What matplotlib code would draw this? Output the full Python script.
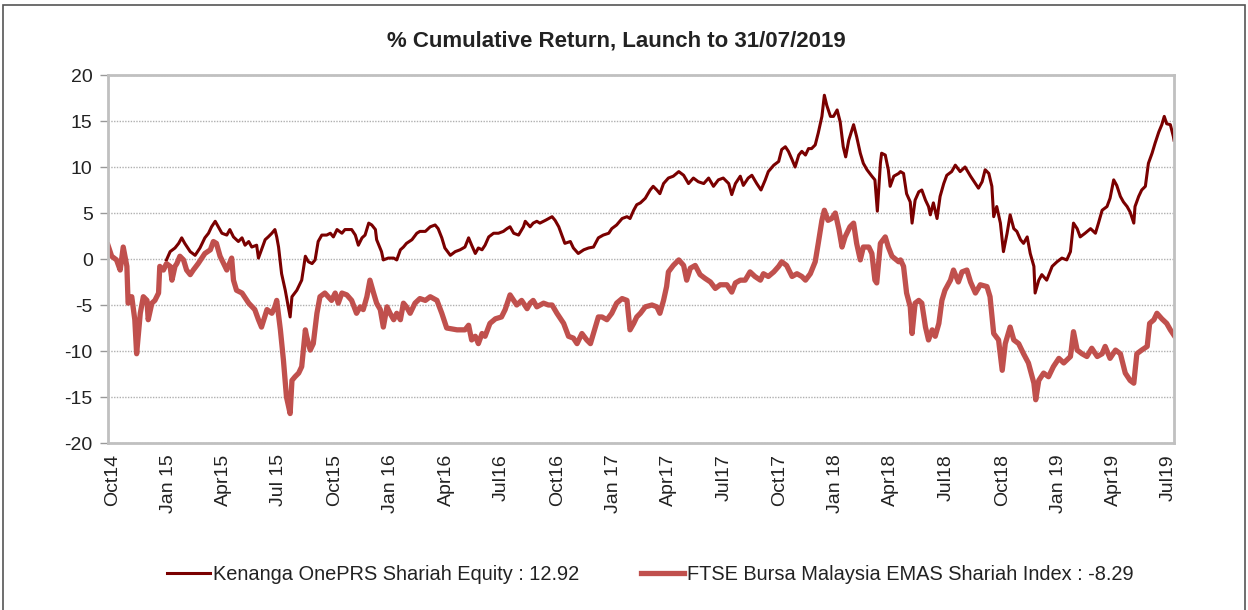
import numpy as np
import pandas as pd
import matplotlib
matplotlib.use("Agg")
from matplotlib import pyplot as plt
from matplotlib.patches import Rectangle

plt.rcParams['font.family'] = ['Liberation Sans', 'DejaVu Sans']

launch = pd.Timestamp('2014-09-24')
end_day = 1750

# Kenanga OnePRS Shariah Equity (days since launch, % cumulative return)
fund_days = [96, 102, 110, 116, 121, 126, 135, 143, 151, 159, 165, 170, 176, 181, 187, 195, 200, 206, 214, 220,
             225, 231, 236, 244, 247, 252, 258, 263, 269, 274, 277, 280, 285, 291, 296, 299, 302, 310, 318, 324,
             329, 335, 340, 345, 351, 359, 365, 370, 376, 384, 389, 400, 406, 411, 417, 422, 428, 433, 439,
             441, 449, 452, 460, 469, 474, 480, 485, 490, 499, 507, 512, 521, 529, 537, 542, 548, 553, 562, 570,
             578, 586, 592, 597, 603, 608, 614, 619, 625, 633, 641, 649, 655, 660, 666, 674, 682, 685, 693, 698,
             704, 709, 718, 729, 734, 740, 745, 750, 759, 764, 772, 781, 789, 797, 805, 813, 822, 827, 835, 844,
             852, 857, 863, 868,
             874, 882, 890, 895, 901, 906, 912, 920, 928, 937, 945, 953, 961, 969, 978, 986, 994, 1002, 1010, 1019,
             1024, 1030, 1038, 1043, 1051, 1057, 1065, 1072, 1079, 1084, 1093, 1101, 1106, 1112, 1117, 1123, 1128,
             1134, 1139, 1145, 1150, 1155, 1161, 1166, 1172, 1176, 1180, 1186, 1191, 1197, 1202, 1207, 1211, 1216,
             1224, 1229, 1235, 1240, 1246, 1254, 1259, 1263, 1268, 1270, 1276, 1281, 1284, 1290, 1298,
             1301, 1306, 1311, 1317, 1320, 1325, 1331, 1336, 1342, 1347, 1350, 1355, 1361, 1366, 1372, 1377, 1385,
             1391, 1399, 1407, 1416, 1424, 1429, 1435, 1440, 1446, 1451, 1454, 1459, 1465, 1470, 1476, 1481, 1487,
             1492, 1498, 1503, 1509, 1514, 1520, 1522, 1528, 1533, 1541, 1550, 1558, 1566, 1574, 1580, 1585, 1591,
             1596, 1604, 1613, 1621, 1626, 1632, 1640, 1645, 1651, 1656, 1662, 1667, 1673, 1678, 1684, 1686, 1692,
             1697, 1703, 1708, 1714, 1719, 1725, 1730, 1734, 1738, 1744, 1749, 1750]
fund_ret = [-0.1, 0.8, 1.2, 1.7, 2.3, 1.7, 0.8, 0.4, 1.2, 2.3, 2.8, 3.5, 4.1, 3.5, 2.8, 2.6, 3.2, 2.4, 1.9, 2.3,
            1.5, 1.9, 1.3, 1.5, 0.1, 1.0, 2.1, 2.4, 2.8, 3.2, 2.4, 1.3, -1.6, -3.4, -5.2, -6.3, -4.1, -3.4, -2.3, 0.3,
            -0.3, -0.5, -0.1, 1.9, 2.6, 2.6, 2.8, 2.4, 3.2, 2.8, 3.2, 3.2, 2.6, 1.5, 2.3, 2.6, 3.9, 3.7, 3.2,
            2.1, 0.8, -0.1, 0.1, 0.1, -0.1, 1.0, 1.3, 1.7, 2.1, 2.8, 3.0, 3.0, 3.5, 3.7, 3.3, 2.3, 1.2, 0.4, 0.8,
            1.0, 1.3, 2.3, 1.5, 0.6, 1.2, 1.0, 1.5, 2.4, 2.8, 2.8, 3.0, 3.3, 3.5, 2.8, 2.6, 3.5, 4.1, 3.5, 3.9,
            4.1, 3.9, 4.2, 4.6, 4.2, 3.5, 2.6, 1.7, 1.9, 1.2, 0.6, 1.0, 1.2, 1.3, 2.3, 2.6, 2.8, 3.3, 3.7, 4.4,
            4.6, 4.4, 5.3, 5.9,
            6.1, 6.6, 7.5, 7.9, 7.5, 7.1, 8.2, 8.8, 9.0, 9.5, 9.1, 8.2, 8.8, 8.4, 8.2, 8.8, 7.9, 8.6, 8.8, 8.2,
            7.0, 8.2, 9.0, 8.0, 8.8, 9.1, 8.2, 7.5, 8.6, 9.5, 10.2, 10.6, 11.9, 12.2, 11.7, 10.8, 10.0,
            11.3, 11.7, 11.3, 12.0, 12.0, 12.4, 13.7, 15.5, 17.8, 16.7, 15.5, 15.5, 16.2, 14.9, 12.2, 11.1, 12.9,
            14.6, 13.3, 11.5, 10.4, 9.7, 9.0, 8.6, 5.2, 10.4, 11.5, 11.3, 9.7, 7.9, 9.0, 9.3,
            9.5, 9.3, 7.1, 6.2, 3.9, 6.4, 7.3, 7.5, 6.4, 5.7, 4.8, 6.1, 4.4, 6.8, 8.2, 9.1, 9.5,
            10.2, 9.5, 10.0, 9.0, 8.2, 7.7, 8.4, 9.7, 9.3, 7.9, 4.6, 5.7, 3.9, 0.8, 2.8, 4.8, 3.3,
            3.0, 2.1, 1.7, 2.4, 0.6, -0.8, -3.7, -2.3, -1.7, -2.3, -0.8, -0.3, 0.1, -0.1, 0.8, 3.9, 3.3,
            2.4, 2.8, 3.3, 2.8, 3.9, 5.3, 5.7, 6.6, 8.6, 8.0, 6.8, 6.2, 5.7, 5.1, 3.9, 5.7, 6.8,
            7.5, 7.9, 10.4, 11.5, 12.6, 13.8, 14.6, 15.5, 14.7, 14.6, 13.3, 12.92]

# FTSE Bursa Malaysia EMAS Shariah Index
index_days = [0, 6, 14, 20, 25, 31, 33, 39, 44, 47, 53, 58, 64, 66, 72, 77, 83, 85, 91, 96, 102, 105, 110, 113,
              118, 124, 129, 135, 140, 148, 159, 168, 173, 178, 184, 195, 203, 206, 211, 220, 231, 241, 247, 252,
              261, 269, 274, 277, 283, 288, 293, 299, 302, 307, 313, 318, 324, 326, 332, 337, 343, 348, 356, 367,
              373, 378, 384, 392, 400, 408, 414, 419, 425, 430, 436,
              441, 447, 452, 458, 463, 469, 474, 480, 485, 490, 496, 504, 512, 521, 529, 540, 548, 556, 573, 586,
              592, 597, 603, 608, 614, 619, 627, 636, 646, 652, 657, 660, 666, 671, 679, 688, 693, 698, 704, 715,
              723, 729, 737, 748, 756, 764, 770, 778, 786, 792, 797, 805, 811, 819, 827, 835, 844, 852, 857, 863, 868,
              874, 882, 893, 901, 906, 912, 917, 920, 928, 937, 945, 950, 956, 964, 972, 980, 989, 997, 1005, 1016,
              1024, 1030, 1038, 1046, 1054, 1062, 1071, 1076, 1084, 1093, 1101, 1106, 1114, 1123, 1131, 1139, 1145,
              1153, 1161, 1166, 1172, 1176, 1182, 1188, 1194, 1200, 1205, 1210, 1218, 1224, 1229, 1235, 1240, 1249,
              1254, 1259, 1262, 1268, 1276, 1281, 1287, 1298,
              1301, 1306, 1311, 1317, 1320, 1325, 1331, 1336, 1342, 1347, 1353, 1358, 1364, 1369, 1374, 1383, 1388,
              1396, 1402, 1410, 1416, 1424, 1432, 1443, 1448, 1454, 1462, 1468, 1473, 1481, 1487, 1495, 1503, 1511,
              1520, 1523, 1528, 1536, 1544, 1552, 1561, 1569, 1580, 1585, 1591, 1599, 1607, 1615, 1624, 1632, 1637,
              1645, 1654, 1662, 1670, 1678, 1684, 1689, 1697, 1706, 1710, 1717, 1722, 1730, 1738, 1744, 1750]
index_ret = [1.5, 0.3, -0.1, -1.2, 1.3, -0.8, -4.8, -4.1, -6.6, -10.3, -5.9, -4.1, -4.5, -6.6, -4.8, -4.5, -3.7,
             -0.8, -1.2, -0.5, -0.8, -2.3, -0.8, -0.5,
             0.3, -0.1, -1.2, -1.7, -1.2, -0.5, 0.6, 1.0, 1.9, 1.7, 0.3, -1.2, 0.1, -2.3, -3.4, -3.7, -4.8, -5.5,
             -6.6, -7.4,
             -5.5, -5.9, -5.2, -4.5, -7.7, -11.0, -15.0, -16.8, -13.2, -12.8, -12.4, -11.7, -7.7, -8.4, -9.9, -9.2,
             -5.9, -4.1, -3.7, -4.5,
             -3.7, -4.8, -3.7, -3.9, -4.5, -5.9, -5.2, -5.5, -4.1, -2.3, -3.7,
             -4.8, -5.5, -7.4, -5.2, -5.9, -6.6, -5.9, -6.6, -4.8, -5.2, -5.9, -4.8, -4.3, -4.5, -4.1, -4.5, -5.9,
             -7.5, -7.7, -7.7,
             -7.2, -8.8, -8.4, -9.2, -8.1, -8.4, -7.0, -6.5, -6.3, -5.5, -4.5, -3.9, -4.5, -5.0, -4.5, -5.4, -4.8,
             -4.5, -5.2, -4.8,
             -5.0, -5.0, -5.9, -7.0, -8.4, -8.6, -9.2, -8.1, -8.8, -9.2, -8.1, -6.3, -6.3, -6.6, -5.9, -4.8, -4.3,
             -4.5, -7.7, -7.0, -6.3,
             -5.9, -5.2, -5.0, -5.2, -5.9, -4.5, -3.0, -1.4, -0.7, -0.1, -0.7, -2.3, -1.0, -0.7, -1.7, -2.1, -2.5,
             -3.2, -2.8, -2.8,
             -3.6, -2.6, -2.3, -2.3, -1.4, -1.9, -2.3, -1.6, -1.9, -1.4, -0.8, -0.3, -0.7, -1.9, -1.6, -1.9, -2.3,
             -1.6, -0.3, 1.7, 4.2, 5.3, 4.2, 4.4, 5.0, 3.2, 1.3, 2.4, 3.5, 3.9, 1.7, -0.1, 1.3, 1.3,
             0.6, -2.3, -2.6, 1.7, 2.4, 1.3, 0.3, -0.3,
             -0.1, -0.8, -3.7, -5.2, -8.1, -4.8, -4.5, -4.8, -7.4, -8.8, -7.7, -8.4, -7.0, -4.5, -3.4, -2.3, -1.2,
             -2.5, -1.4, -1.2, -2.5, -3.7, -2.8, -3.0, -4.1, -8.1, -8.8, -12.1, -9.2, -7.4, -8.8, -9.2, -10.3, -11.3,
             -13.5, -15.3, -13.2, -12.4, -12.8, -11.7, -10.8, -11.3, -10.6, -7.9, -9.9, -10.3, -10.6, -9.7, -10.6,
             -10.3, -9.5,
             -10.8, -9.9, -10.3, -12.4, -13.2, -13.5, -10.3, -9.9, -9.5, -7.0, -6.6, -5.9, -6.5, -7.0, -7.7, -8.29]

tick_dates = pd.date_range('2014-10-01', '2019-07-01', freq='QS-OCT')
tick_labels = ['Oct14', 'Jan 15', 'Apr15', 'Jul 15', 'Oct15', 'Jan 16', 'Apr16', 'Jul16', 'Oct16', 'Jan 17',
               'Apr17', 'Jul17', 'Oct17', 'Jan 18', 'Apr18', 'Jul18', 'Oct18', 'Jan 19', 'Apr19', 'Jul19']

fund_x = launch + pd.to_timedelta(fund_days, unit='D')
index_x = launch + pd.to_timedelta(index_days, unit='D')

fig = plt.figure(figsize=(12.48, 6.10), dpi=100)
ax = fig.add_axes([108 / 1248, 1 - 443 / 610, (1174 - 108) / 1248, (443 - 75) / 610])

ax.plot(fund_x, fund_ret, color='#7a0000', lw=2.2, label='Kenanga OnePRS Shariah Equity : 12.92')
ax.plot(index_x, index_ret, color='#c0504d', lw=3.8, label='FTSE Bursa Malaysia EMAS Shariah Index : -8.29')

ax.set_xlim(launch, launch + pd.Timedelta(days=end_day))
ax.set_ylim(-20, 20)
ax.set_yticks(np.arange(-20, 21, 5))
ax.set_yticklabels([str(v) for v in range(-20, 21, 5)])
ax.set_xticks(tick_dates)
ax.set_xticklabels(tick_labels, rotation=90)
ax.tick_params(axis='x', length=0, pad=8, labelsize=14, colors='#222222')
ax.tick_params(axis='y', length=6, width=1, color='#999999', pad=5, labelsize=14, labelcolor='#222222')
ax.grid(axis='y', color='#b0b0b0', linestyle=(0, (1, 1)), lw=1)
ax.set_axisbelow(True)
for s in ax.spines.values():
    s.set_color('#c0c0c0')
    s.set_linewidth(2)

fig.text(0.494, 1 - 41 / 610, '% Cumulative Return, Launch to 31/07/2019', ha='center', va='center',
         fontsize=16, fontweight='bold', color='#222222')

fig.legend(loc='center', bbox_to_anchor=(0.521, 1 - 574 / 610), ncol=2, frameon=False, fontsize=14.4,
           handlelength=2.15, handletextpad=0.15, columnspacing=3.1, labelcolor='#222222')

fig.patches.append(Rectangle((3 / 1248, -0.02), 1242 / 1248, 1 - 5 / 610 + 0.02, transform=fig.transFigure,
                             fill=False, edgecolor='#555555', lw=1.2))

fig.savefig('out.png', dpi=100)
